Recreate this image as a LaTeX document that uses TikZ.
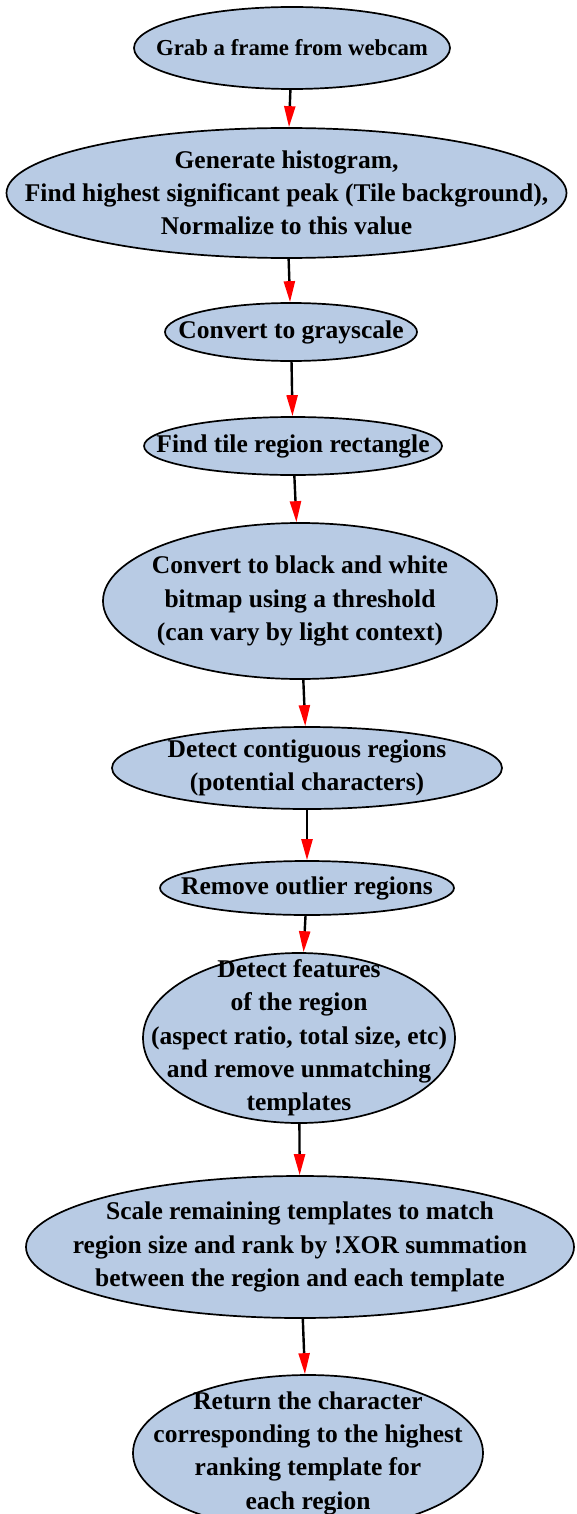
\documentclass[tikz,border=0pt]{standalone}
\usepackage{fontspec}
\setmainfont{Liberation Serif}
\usetikzlibrary{shapes.geometric,arrows.meta}

\definecolor{stepblue}{RGB}{184,203,228}
\newcommand{\stepfont}{\fontsize{25.5}{33.3}\selectfont\bfseries}
\newcommand{\firststepfont}{\fontsize{22.8}{33.3}\selectfont\bfseries}

\begin{document}
\begin{tikzpicture}[x=1pt,y=-1pt,
  stage/.style={ellipse, draw=black, line width=1.7pt, fill=stepblue, inner sep=0pt},
  flow/.style={line width=2.4pt, -{Triangle[length=21pt,width=11pt,color=red,fill=red]}},
  every label/.append style={align=center, font=\stepfont, inner sep=0pt}]

% page frame
  \useasboundingbox (0,0) rectangle (576,1514);

% processing steps, top to bottom
  \node[stage, minimum width=316pt, minimum height=82pt,  label={[font=\firststepfont]center:{Grab a frame from webcam}}] (grab) at (292,48) {};
  \node[stage, minimum width=560pt, minimum height=130pt, label={center:{Generate histogram,\\Find highest significant peak (Tile background),\\Normalize to this value}}] (hist) at (286.5,193) {};
  \node[stage, minimum width=252pt, minimum height=58pt,  label={center:{Convert to grayscale}}] (gray) at (291,332) {};
  \node[stage, minimum width=298pt, minimum height=58pt,  label={center:{Find tile region rectangle}}] (tile) at (293,446) {};
  \node[stage, minimum width=394pt, minimum height=156pt, label={center:{Convert to black and white\\bitmap using a threshold\\(can vary by light context)}}] (bw) at (300,601) {};
  \node[stage, minimum width=390pt, minimum height=82pt,  label={center:{Detect contiguous regions\\(potential characters)}}] (contig) at (307,768) {};
  \node[stage, minimum width=294pt, minimum height=54pt,  label={center:{Remove outlier regions}}] (outlier) at (307,888) {};
  \node[stage, minimum width=312pt, minimum height=170pt, label={center:{Detect features\\of the region\\(aspect ratio, total size, etc)\\and remove unmatching\\templates}}] (feat) at (299,1038) {};
  \node[stage, minimum width=548pt, minimum height=142pt, label={center:{Scale remaining templates to match\\region size and rank by !XOR summation\\between the region and each template}}] (xor) at (300,1247) {};
  \node[stage, minimum width=350pt, minimum height=156pt, label={center:{Return the character\\corresponding to the highest\\ranking template for\\each region}}] (result) at (308,1453) {};

% arrows between the steps
  \draw[flow] (grab)    -- (hist);
  \draw[flow] (hist)    -- (gray);
  \draw[flow] (gray)    -- (tile);
  \draw[flow] (tile)    -- (bw);
  \draw[flow] (bw)      -- (contig);
  \draw[flow] (contig)  -- (outlier);
  \draw[flow] (outlier) -- (feat);
  \draw[flow] (feat)    -- (xor);
  \draw[flow] (xor)     -- (result);

\end{tikzpicture}
\end{document}
